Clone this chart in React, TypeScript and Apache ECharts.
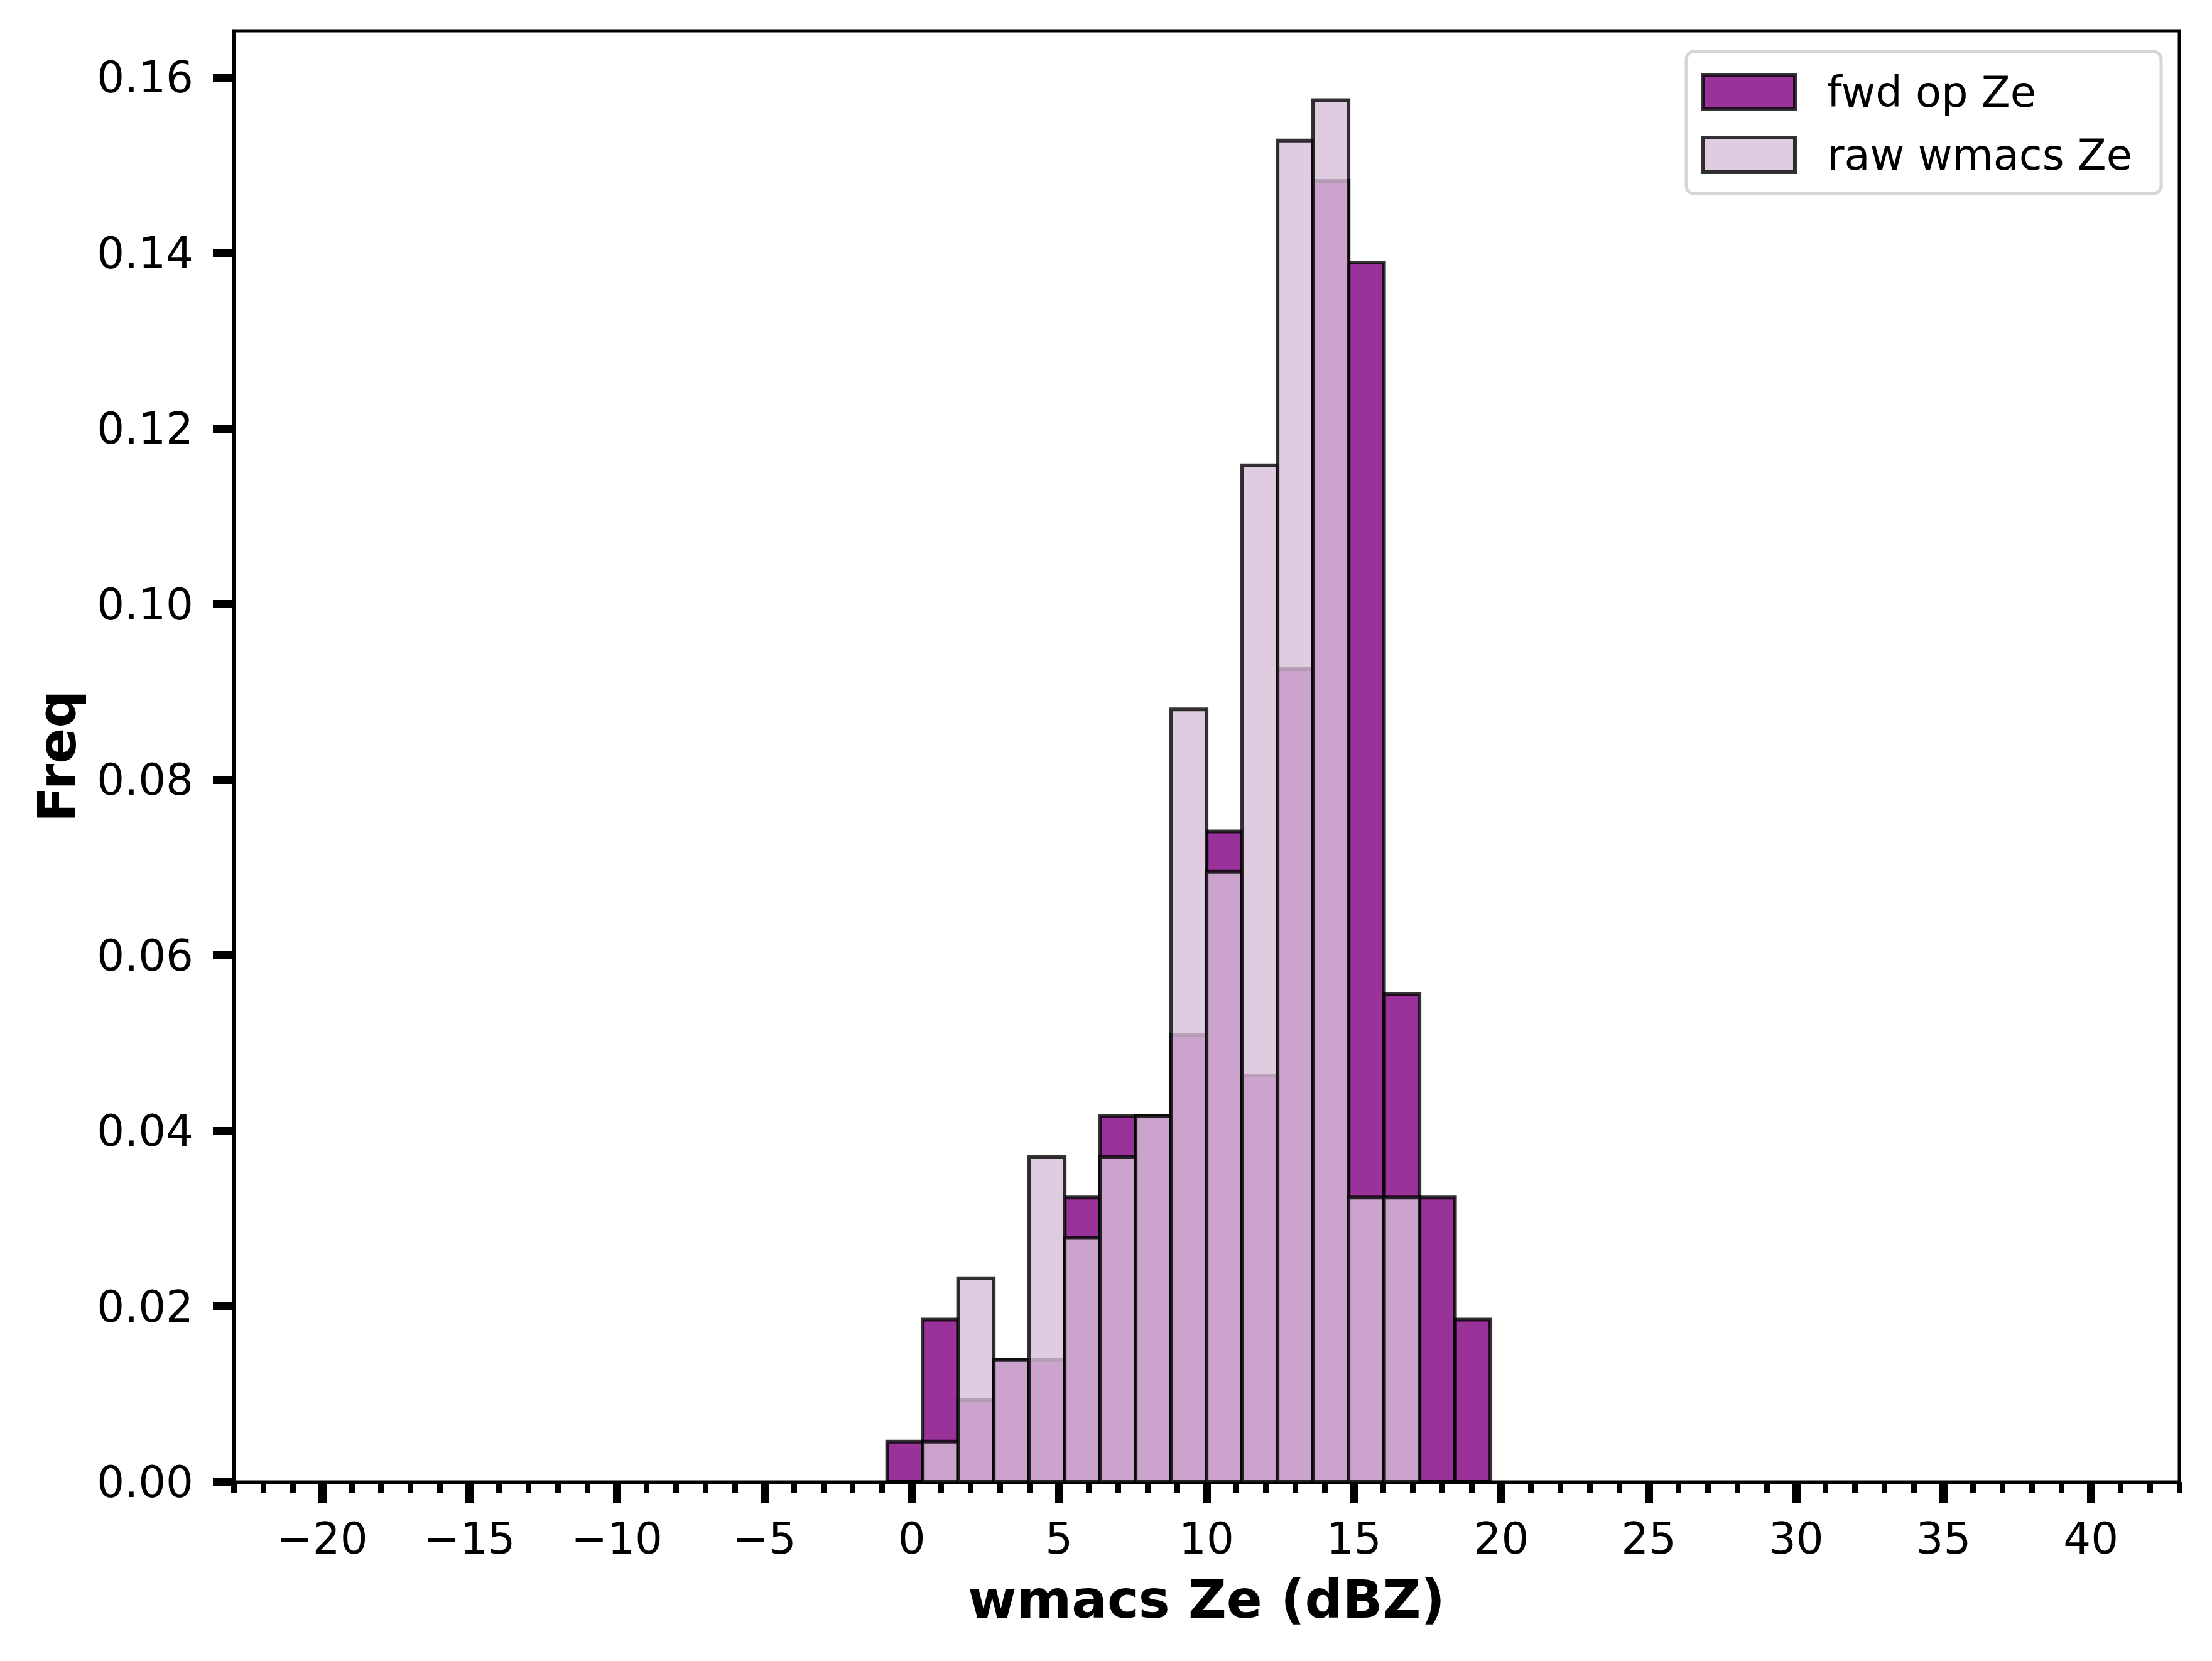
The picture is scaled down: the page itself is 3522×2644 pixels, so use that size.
import React, { useEffect, useRef } from "react";
import * as echarts from "echarts";

const binEdges = [-0.83, 0.374, 1.577, 2.781, 3.984, 5.188, 6.392, 7.595, 8.799, 10.002, 11.206, 12.41, 13.613, 14.817, 16.02, 17.224, 18.428, 19.631];
const fwdFreq = [0.0046, 0.0185, 0.0093, 0.0139, 0.0139, 0.0324, 0.0417, 0.0417, 0.0509, 0.0741, 0.0463, 0.0926, 0.1482, 0.1389, 0.0556, 0.0324, 0.0185];
const rawFreq = [0, 0.0046, 0.0232, 0.0139, 0.037, 0.0278, 0.037, 0.0417, 0.088, 0.0695, 0.1158, 0.1528, 0.1574, 0.0324, 0.0324, 0, 0];
const xMajorTicks = [-20, -15, -10, -5, 0, 5, 10, 15, 20, 25, 30, 35, 40];
const yTicks = [0, 0.02, 0.04, 0.06, 0.08, 0.1, 0.12, 0.14, 0.16];
const seriesNames = ["fwd op Ze", "raw wmacs Ze"];

const FWD_FILL = "rgba(128,0,128,0.8)";
const RAW_FILL = "rgba(216,191,216,0.8)";
const EDGE = "rgba(0,0,0,0.8)";
const FONT = "DejaVu Sans";

function histData(vals: number[]) {
  return vals.map((v, i) => [binEdges[i], binEdges[i + 1], v]);
}

function makeRender(fill: string) {
  return (params: any, api: any) => {
    const x0 = api.value(0);
    const x1 = api.value(1);
    const y = api.value(2);
    const p0 = api.coord([x0, y]);
    const p1 = api.coord([x1, 0]);
    return {
      type: "rect",
      shape: { x: p0[0], y: p0[1], width: p1[0] - p0[0], height: p1[1] - p0[1] },
      style: { fill, stroke: EDGE, lineWidth: 6 },
    };
  };
}

const fmtX = (v: number) => (v < 0 ? "\u2212" + Math.abs(v) : String(v));

export default function App() {
  const ref = useRef<HTMLDivElement>(null);
  useEffect(() => {
    if (!ref.current) return;
    const chart = echarts.init(ref.current, undefined, { renderer: "svg" });
    chart.setOption({
      animation: false,
      backgroundColor: "#ffffff",
      grid: {
        left: 372,
        right: 52,
        top: 49,
        bottom: 285,
        show: true,
        borderColor: "#000",
        borderWidth: 5,
        backgroundColor: "transparent",
      },
      xAxis: [
        {
          type: "value",
          min: -23,
          max: 43,
          position: "bottom",
          name: "wmacs Ze (dBZ)",
          nameLocation: "middle",
          nameGap: 145,
          nameTextStyle: { fontFamily: FONT, fontSize: 84, fontWeight: "bold", color: "#000" },
          axisLine: { show: true, onZero: false, lineStyle: { color: "#000", width: 5 } },
          axisTick: { show: true, customValues: xMajorTicks, length: 33, lineStyle: { color: "#000", width: 13 } },
          axisLabel: {
            show: true,
            customValues: xMajorTicks,
            formatter: fmtX,
            fontFamily: FONT,
            fontSize: 69,
            color: "#000",
            margin: 55,
          },
          splitLine: { show: false },
        },
        {
          type: "value",
          min: -23,
          max: 43,
          interval: 1,
          position: "bottom",
          axisLine: { show: false, onZero: false },
          axisTick: { show: true, length: 18, lineStyle: { color: "#000", width: 9 } },
          axisLabel: { show: false },
          splitLine: { show: false },
        },
      ],
      yAxis: {
        type: "value",
        min: 0,
        max: 0.1653,
        position: "left",
        name: "Freq",
        nameLocation: "middle",
        nameRotate: 90,
        nameGap: 239,
        nameTextStyle: { fontFamily: FONT, fontSize: 84, fontWeight: "bold", color: "#000" },
        axisLine: { show: true, onZero: false, lineStyle: { color: "#000", width: 5 } },
        axisTick: { show: true, customValues: yTicks, length: 33, lineStyle: { color: "#000", width: 13 } },
        axisLabel: {
          show: true,
          customValues: yTicks,
          formatter: (v: number) => v.toFixed(2),
          fontFamily: FONT,
          fontSize: 69,
          color: "#000",
          margin: 64,
        },
        splitLine: { show: false },
      },
      legend: {
        show: true,
        left: 2685,
        top: 82,
        orient: "vertical",
        align: "left",
        padding: [31, 46, 28, 24],
        itemGap: 33,
        itemWidth: 146,
        itemHeight: 55,
        icon: "rect",
        backgroundColor: "rgba(255,255,255,0.8)",
        borderColor: "#d6d6d6",
        borderWidth: 5,
        borderRadius: 12,
        textStyle: {
          fontFamily: FONT,
          fontSize: 67,
          color: "#000",
          lineHeight: 55,
          padding: [0, 0, 0, 46],
        },
        data: [
          { name: seriesNames[0], itemStyle: { color: FWD_FILL, borderColor: EDGE, borderWidth: 6 } },
          { name: seriesNames[1], itemStyle: { color: RAW_FILL, borderColor: EDGE, borderWidth: 6 } },
        ],
      },
      series: [
        {
          type: "custom",
          name: seriesNames[0],
          xAxisIndex: 0,
          yAxisIndex: 0,
          itemStyle: { color: FWD_FILL, borderColor: EDGE, borderWidth: 6 },
          renderItem: makeRender(FWD_FILL),
          data: histData(fwdFreq),
          z: 2,
        },
        {
          type: "custom",
          name: seriesNames[1],
          xAxisIndex: 0,
          yAxisIndex: 0,
          itemStyle: { color: RAW_FILL, borderColor: EDGE, borderWidth: 6 },
          renderItem: makeRender(RAW_FILL),
          data: histData(rawFreq),
          z: 3,
        },
      ],
    });
    return () => chart.dispose();
  }, []);
  return (
    <div
      ref={ref}
      style={{ position: "fixed", left: 0, top: 0, width: 3522, height: 2644, background: "#fff" }}
    />
  );
}
